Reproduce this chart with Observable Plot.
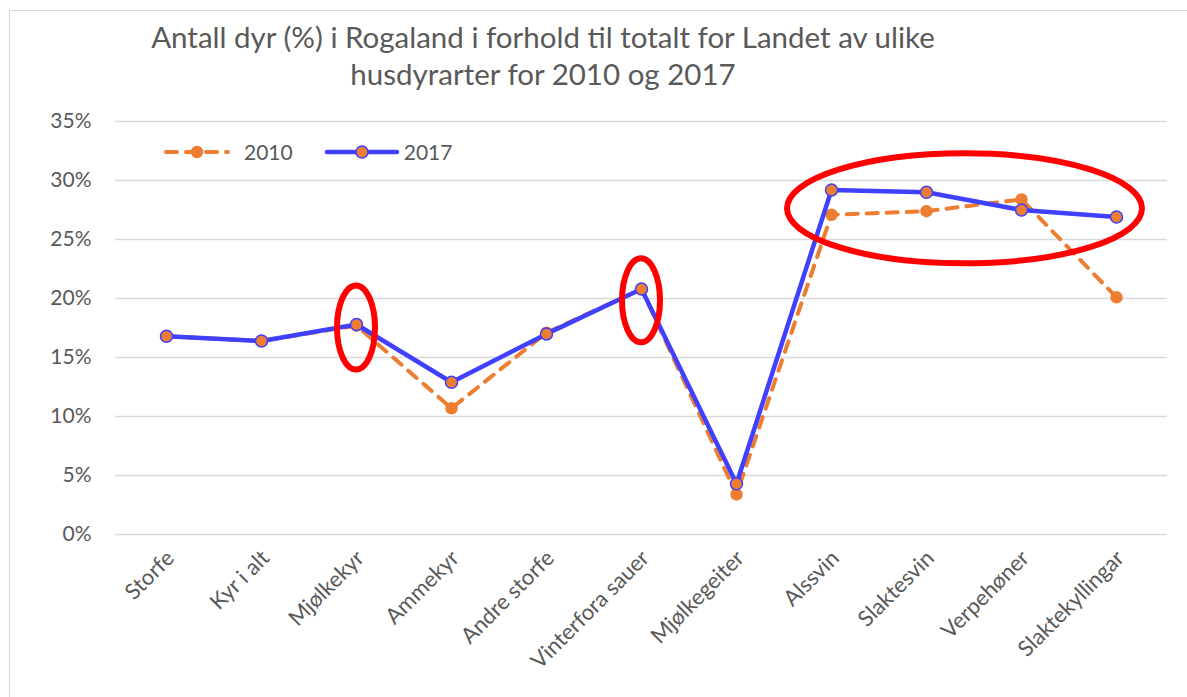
<!DOCTYPE html>
<html>
<head>
<meta charset="utf-8">
<script src="https://cdn.jsdelivr.net/npm/d3@7"></script>
<script src="https://cdn.jsdelivr.net/npm/@observablehq/plot@0.6"></script>
<style>
  html, body { margin: 0; padding: 0; background: #fff; }
  #wrap { position: relative; width: 1187px; height: 697px; overflow: hidden; font-family: Lato, "Open Sans", sans-serif; color: #595959; }
  #frame { position: absolute; left: 9px; top: 10px; width: 1300px; height: 800px; border: 1.5px solid #d9d9d9; box-sizing: border-box; }
  #title { position: absolute; left: 0; width: 1086px; top: 18px; text-align: center; font-size: 29.5px; line-height: 37px; color: #595959; }
  #chart { position: absolute; left: 0; top: 100px; }
  #legend { position: absolute; left: 160px; top: 139px; display: flex; align-items: center; font-size: 21px; color: #595959; }
  #legend .item { display: flex; align-items: center; }
</style>
</head>
<body>
<div id="wrap">
  <div id="frame"></div>
  <div id="title"></div>
  <div id="chart"></div>
  <div id="legend"></div>
</div>
<script>
// ---- data ----
const titleLines = [
  "Antall dyr (%) i Rogaland i forhold til totalt for Landet av ulike",
  "husdyrarter for 2010 og 2017"
];
const categories = ["Storfe", "Kyr i alt", "Mjølkekyr", "Ammekyr", "Andre storfe", "Vinterfora sauer", "Mjølkegeiter", "Alssvin", "Slaktesvin", "Verpehøner", "Slaktekyllingar"];
const values2010 = [16.8, 16.4, 17.7, 10.7, 17.1, 20.8, 3.4, 27.1, 27.4, 28.4, 20.1];
const values2017 = [16.8, 16.4, 17.8, 12.9, 17.0, 20.8, 4.3, 29.2, 29.0, 27.5, 26.9];
const seriesNames = ["2010", "2017"];
const yTicks = [0, 5, 10, 15, 20, 25, 30, 35];
// highlight ellipses: first & last category spanned, centre value (%)
const highlightFrom = ["Mjølkekyr", "Vinterfora sauer", "Alssvin"];
const highlightTo = ["Mjølkekyr", "Vinterfora sauer", "Slaktekyllingar"];
const highlightValue = [17.5, 19.8, 27.6];

// ---- build ----
const col2010 = "#ed7d31";
const col2017 = "#4040ff";
const data2010 = categories.map((c, i) => ({category: c, value: values2010[i]}));
const data2017 = categories.map((c, i) => ({category: c, value: values2017[i]}));
const highlights = highlightFrom.map((f, i) => ({from: f, to: highlightTo[i], value: highlightValue[i]}));

document.getElementById("title").innerHTML = titleLines.map(t => `<div>${t}</div>`).join("");

const ellipseMark = (index, scales) => {
  const g = d3.create("svg:g");
  highlights.forEach(h => {
    const x1 = scales.x(h.from), x2 = scales.x(h.to);
    const wide = x2 > x1;
    g.append("ellipse")
      .attr("cx", (x1 + x2) / 2 - (wide ? 9 : 0))
      .attr("cy", scales.y(h.value))
      .attr("rx", wide ? (x2 - x1) / 2 + 35 : 19)
      .attr("ry", wide ? 55 : 42)
      .attr("fill", "none")
      .attr("stroke", "#ff0000")
      .attr("stroke-width", 6);
  });
  return g.node();
};

const chart = Plot.plot({
  width: 1187,
  height: 597,
  marginLeft: 115,
  marginRight: 20,
  marginTop: 21,
  marginBottom: 163,
  style: {fontFamily: "Lato, 'Open Sans', sans-serif", fontSize: "21px", color: "#595959", background: "transparent", overflow: "visible"},
  x: {type: "point", domain: categories, padding: 0.48},
  y: {domain: [0, 35]},
  marks: [
    Plot.gridY(yTicks, {stroke: "#d9d9d9", strokeOpacity: 1, strokeWidth: 1.4}),
    Plot.axisY(yTicks, {tickSize: 0, tickPadding: 24, tickFormat: d => d + "%", label: null, fontSize: 21}),
    Plot.axisX({tickSize: 0, tickRotate: -45, tickPadding: 20, dx: 4, label: null, fontSize: 22}),
    Plot.line(data2010, {x: "category", y: "value", stroke: col2010, strokeWidth: 4, strokeDasharray: "11,9", strokeLinecap: "round"}),
    Plot.dot(data2010, {x: "category", y: "value", r: 5.5, fill: col2010, stroke: col2010, strokeWidth: 1.5}),
    Plot.line(data2017, {x: "category", y: "value", stroke: col2017, strokeWidth: 4.5}),
    Plot.dot(data2017, {x: "category", y: "value", r: 6, fill: col2010, stroke: col2017, strokeWidth: 1.5}),
    ellipseMark
  ]
});
document.getElementById("chart").appendChild(chart);

// legend
const legend = document.getElementById("legend");
seriesNames.forEach((name, i) => {
  const item = document.createElement("div");
  item.className = "item";
  const sw = i === 0
    ? `<svg width="72" height="20" style="margin-right:12px"><line x1="6" y1="10" x2="68" y2="10" stroke="${col2010}" stroke-width="4" stroke-dasharray="11,9" stroke-linecap="round"/><circle cx="37" cy="10" r="5.5" fill="${col2010}" stroke="${col2010}" stroke-width="1.5"/></svg>`
    : `<svg width="76" height="20" style="margin-left:31px;margin-right:4px"><line x1="3" y1="10" x2="73" y2="10" stroke="${col2017}" stroke-width="4.5" stroke-linecap="round"/><circle cx="38" cy="10" r="6" fill="${col2010}" stroke="${col2017}" stroke-width="1.5"/></svg>`;
  item.innerHTML = sw + `<span>${name}</span>`;
  legend.appendChild(item);
});
</script>
</body>
</html>
